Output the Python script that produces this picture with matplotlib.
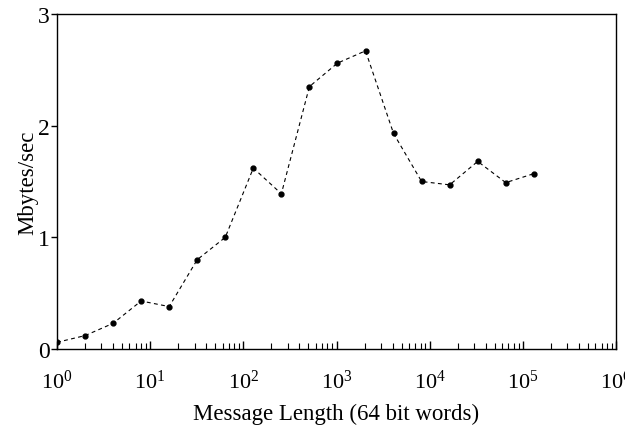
import numpy as np
import matplotlib
matplotlib.use('Agg')
import matplotlib.pyplot as plt
from matplotlib.ticker import LogLocator, FixedLocator

# message lengths (64 bit words), powers of two
msg_len = [1, 2, 4, 8, 16, 32, 64, 128, 256, 512, 1024, 2048,
           4096, 8192, 16384, 32768, 65536, 131072]
# throughput in Mbytes/sec
mbytes = [0.06, 0.12, 0.23, 0.43, 0.38, 0.80, 1.00, 1.62, 1.39, 2.35, 2.56, 2.67,
          1.93, 1.50, 1.47, 1.68, 1.49, 1.57]

y_ticks = [0, 1, 2, 3]

plt.rcParams['font.family'] = ['Liberation Serif', 'DejaVu Serif']
plt.rcParams['mathtext.fontset'] = 'custom'
plt.rcParams['mathtext.rm'] = 'Liberation Serif'
plt.rcParams['mathtext.it'] = 'Liberation Serif:italic'

fig = plt.figure(figsize=(6.25, 4.27), dpi=100)
ax = fig.add_axes([0.0912, 0.1803, 0.8944, 0.7846])

ax.plot(msg_len, mbytes, color='black', linestyle=(0, (3.5, 3)), linewidth=0.8,
        marker='o', markersize=3.5)

ax.set_xscale('log')
ax.set_xlim(1, 1e6)
ax.set_ylim(0, 3)
ax.yaxis.set_major_locator(FixedLocator(y_ticks))
ax.xaxis.set_major_locator(LogLocator(base=10, numticks=10))
ax.xaxis.set_minor_locator(LogLocator(base=10, subs=np.arange(2, 10), numticks=20))

for s in ax.spines.values():
    s.set_linewidth(1.0)

ax.tick_params(axis='x', which='major', direction='in', length=6, width=1.0,
               labelsize=16, pad=15)
ax.tick_params(axis='x', which='minor', direction='in', length=4, width=0.8)
ax.tick_params(axis='y', which='major', direction='out', length=4, width=1.0,
               labelsize=17, pad=1)

ax.set_xlabel('Message Length (64 bit words)', fontsize=16.5, labelpad=7)
ax.set_ylabel('Mbytes/sec', fontsize=16.5, labelpad=0)

fig.savefig('out.png', dpi=100)
